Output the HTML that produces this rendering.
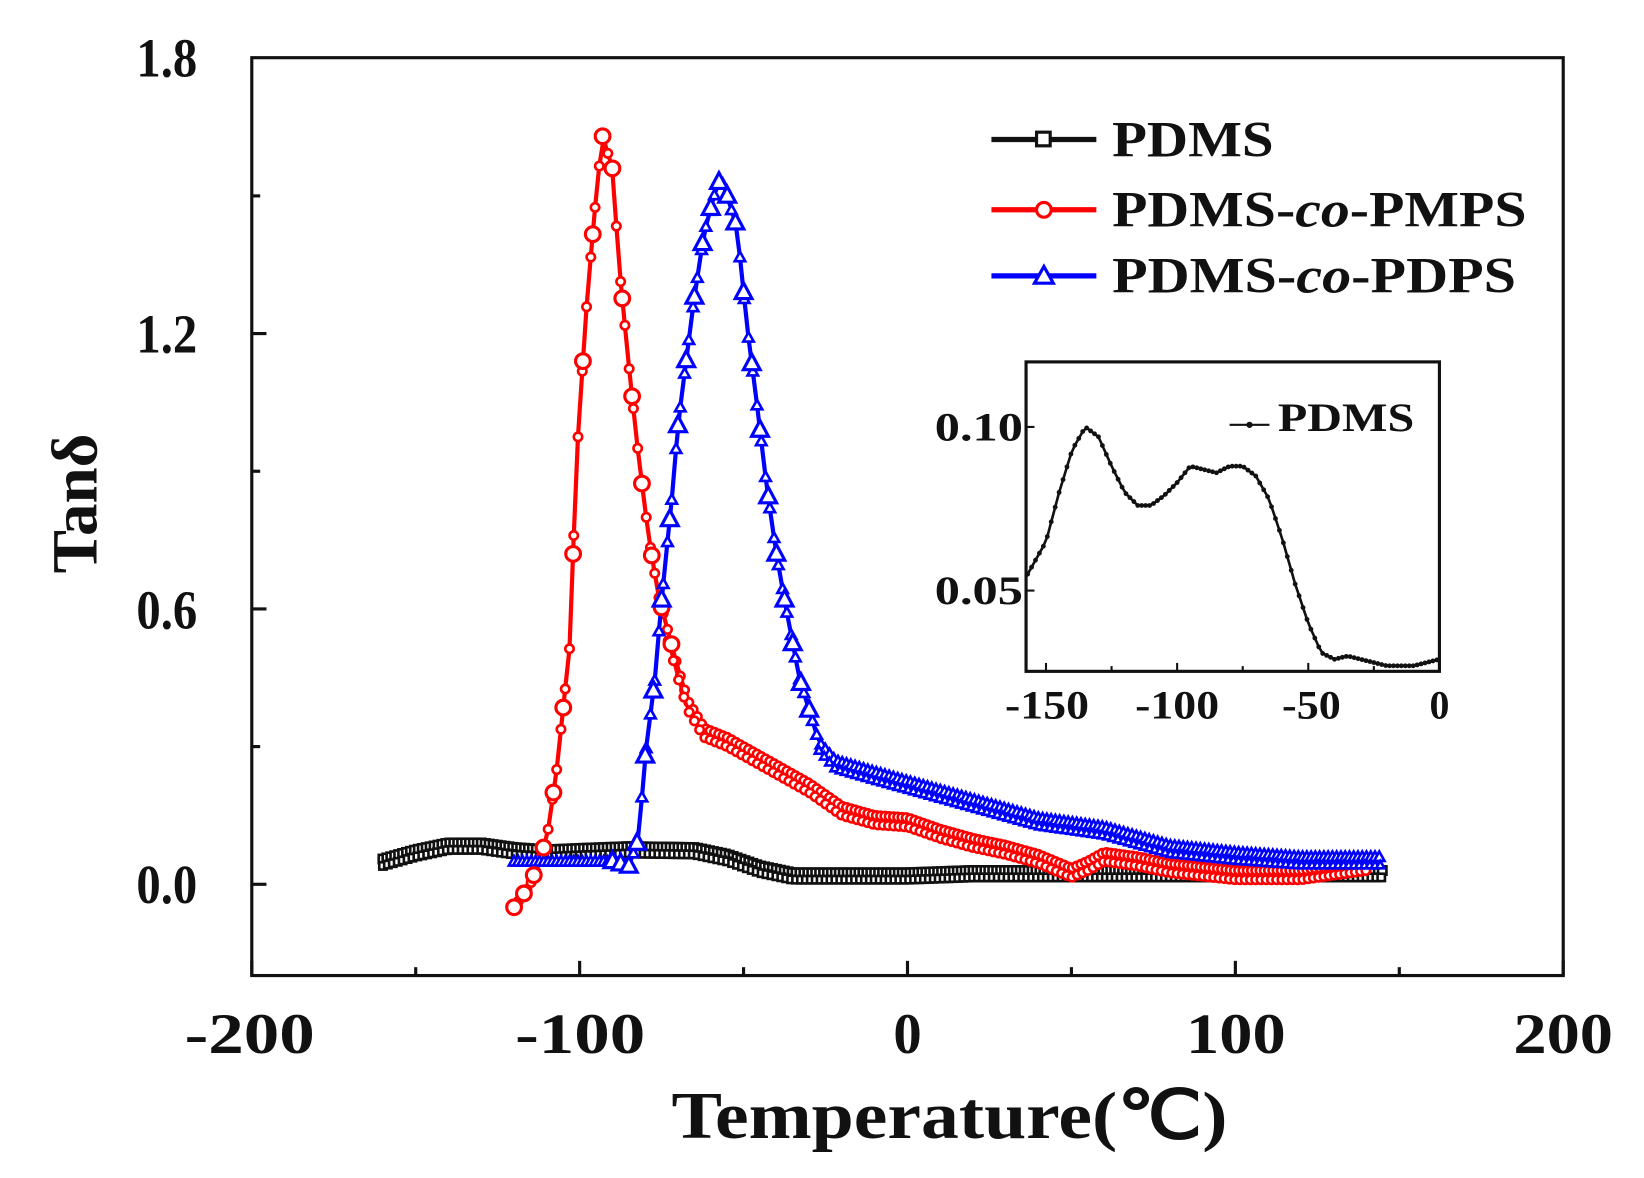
<!DOCTYPE html>
<html><head><meta charset="utf-8"><style>
html,body{margin:0;padding:0;background:#fff;width:1644px;height:1178px;overflow:hidden}
svg{display:block}
text{font-family:"Liberation Serif",serif;font-weight:bold;fill:#111}
</style></head><body>
<svg id="s" width="1644" height="1178" viewBox="0 0 1567 1123" preserveAspectRatio="none">
<rect x="240" y="55" width="1250" height="875" fill="none" stroke="#111" stroke-width="3"/>
<g id="ticks" stroke="#111" stroke-width="3"></g>
<g font-size="52" text-anchor="end">
<text x="188" y="73" textLength="58" lengthAdjust="spacingAndGlyphs">1.8</text><text x="188" y="336" textLength="58" lengthAdjust="spacingAndGlyphs">1.2</text><text x="188" y="599" textLength="58" lengthAdjust="spacingAndGlyphs">0.6</text><text x="188" y="861" textLength="58" lengthAdjust="spacingAndGlyphs">0.0</text>
</g>
<g font-size="54" text-anchor="middle">
<text x="238" y="1004" textLength="124" lengthAdjust="spacingAndGlyphs">-200</text><text x="553" y="1004" textLength="124" lengthAdjust="spacingAndGlyphs">-100</text><text x="865" y="1004">0</text><text x="1178" y="1004" textLength="95" lengthAdjust="spacingAndGlyphs">100</text><text x="1490" y="1004" textLength="95" lengthAdjust="spacingAndGlyphs">200</text>
</g>
<text x="905" y="1085" font-size="64" text-anchor="middle" textLength="530" lengthAdjust="spacingAndGlyphs">Temperature(℃)</text>
<text transform="translate(92,480) rotate(-90)" font-size="62" text-anchor="middle">Tanδ</text>
<g id="data"></g>
<g stroke-width="5">
<line x1="945" y1="133" x2="1045" y2="133" stroke="#111"/><rect x="988" y="126" width="13" height="13" fill="#fff" stroke="#111" stroke-width="3"/>
<line x1="945" y1="200" x2="1045" y2="200" stroke="#f00"/><circle cx="995" cy="200" r="7" fill="#fff" stroke="#f00" stroke-width="3"/>
<line x1="945" y1="263" x2="1045" y2="263" stroke="#00f"/><path d="M995 254 L1004 270 L986 270Z" fill="#fff" stroke="#00f" stroke-width="3"/>
</g>
<g font-size="48">
<text x="1060" y="149" textLength="154" lengthAdjust="spacingAndGlyphs">PDMS</text>
<text x="1060" y="216" textLength="395" lengthAdjust="spacingAndGlyphs">PDMS-<tspan font-style="italic">co</tspan>-PMPS</text>
<text x="1060" y="279" textLength="385" lengthAdjust="spacingAndGlyphs">PDMS-<tspan font-style="italic">co</tspan>-PDPS</text>
</g>
<rect x="978" y="345" width="394" height="295" fill="#fff" stroke="#111" stroke-width="3"/>
<g id="inset"></g>
<g font-size="38" text-anchor="end"><text x="975" y="420" textLength="84" lengthAdjust="spacingAndGlyphs">0.10</text><text x="975" y="576" textLength="84" lengthAdjust="spacingAndGlyphs">0.05</text></g>
<g font-size="38" text-anchor="middle"><text x="998" y="685" textLength="80" lengthAdjust="spacingAndGlyphs">-150</text><text x="1122" y="685" textLength="80" lengthAdjust="spacingAndGlyphs">-100</text><text x="1250" y="685" textLength="56" lengthAdjust="spacingAndGlyphs">-50</text><text x="1372" y="685">0</text></g>
<line x1="1172" y1="405" x2="1210" y2="405" stroke="#111" stroke-width="2"/><circle cx="1191" cy="405" r="3" fill="#111"/>
<text x="1218" y="411" font-size="38" textLength="130" lengthAdjust="spacingAndGlyphs">PDMS</text>
</svg>
<script>
const X=t=>865+3.125*t, Y=v=>843-437.5*v;
function interp(pts,t){for(let i=0;i<pts.length-1;i++){if(t>=pts[i][0]&&t<=pts[i+1][0]){const a=pts[i],b=pts[i+1];return a[1]+(b[1]-a[1])*(t-a[0])/(b[0]-a[0]);}}return pts[pts.length-1][1];}
const tk=document.getElementById('ticks');let ts='';
for(let t=-200;t<=200;t+=50){const L=t%100==0?14:8;ts+=`<line x1="${X(t)}" y1="930" x2="${X(t)}" y2="${930-L}"/>`;}
[[1.5,8],[1.2,14],[0.9,8],[0.6,14],[0.3,8],[0,14]].forEach(([v,L])=>{ts+=`<line x1="240" y1="${Y(v)}" x2="${240+L}" y2="${Y(v)}"/>`;});
tk.innerHTML=ts;
const pdms=[[-160,0.055],[-150,0.075],[-140,0.09],[-130,0.09],[-120,0.08],[-110,0.075],[-100,0.078],[-85,0.082],[-65,0.08],[-55,0.065],[-45,0.04],[-35,0.025],[-20,0.025],[0,0.025],[20,0.03],[60,0.03],[100,0.03],[145,0.03]];
const pmps=[[-120,-0.05],[-115,0.0],[-110,0.1],[-107,0.25],[-103,0.52],[-101,0.92],[-98,1.25],[-95,1.5],[-93,1.63],[-90,1.56],[-88,1.35],[-85,1.13],[-82,0.93],[-79,0.76],[-76,0.63],[-73,0.55],[-70,0.47],[-67,0.40],[-62,0.34],[-55,0.32],[-50,0.30],[-40,0.26],[-30,0.22],[-20,0.17],[-10,0.15],[0,0.145],[10,0.12],[20,0.1],[30,0.085],[40,0.065],[50,0.035],[55,0.05],[60,0.07],[70,0.06],[80,0.045],[100,0.03],[120,0.03],[140,0.05]];
const pdps=[[-120,0.05],[-100,0.05],[-90,0.05],[-85,0.04],[-82,0.1],[-80,0.28],[-77,0.45],[-75,0.62],[-72,0.83],[-70,1.0],[-67,1.17],[-65,1.28],[-62,1.42],[-59,1.5],[-57,1.54],[-55,1.5],[-52,1.43],[-49,1.22],[-46,1.05],[-43,0.87],[-40,0.72],[-37,0.6],[-33,0.45],[-30,0.38],[-27,0.31],[-22,0.27],[-10,0.245],[0,0.225],[20,0.185],[40,0.145],[60,0.125],[80,0.085],[100,0.07],[120,0.06],[145,0.06]];
let out='';
function series(pts,col,off,w,step,mk,sz){
 let d='',m='';const t0=pts[0][0],t1=pts[pts.length-1][0];
 for(let t=t0;t<=t1+0.001;t+=step){const x=X(t),y=Y(interp(pts,t)-off);d+=(d?'L':'M')+x.toFixed(1)+' '+y.toFixed(1);
  if(mk=='s')m+=`<rect x="${x-sz}" y="${y-sz}" width="${2*sz}" height="${2*sz}"/>`;
  else if(mk=='c')m+=`<circle cx="${x}" cy="${y}" r="${sz}"/>`;
  else m+=`<path d="M${x} ${y-sz} L${x+sz} ${y+sz*0.8} L${x-sz} ${y+sz*0.8}Z"/>`;}
 out+=`<path d="${d}" fill="none" stroke="${col}" stroke-width="${w}"/><g fill="#fff" stroke="${col}" stroke-width="2.5">${m}</g>`;
}
series(pdms,'#111',0.0,10,1.2,'s',4);
series(pdms,'#111',0.015,4,1.5,'s',3.5);
series(pmps,'#f00',0.0,4,1.3,'c',4);
series(pmps.filter(p=>p[0]>-75),'#f00',0.02,3,1.6,'c',4);
series(pdps,'#00f',0.0,4,1.3,'t',5);
series(pdps.filter(p=>p[0]>-30),'#00f',0.018,3,1.6,'t',4);
function big(pts,col,mk,step,t0,t1){let m='';for(let t=t0;t<=t1;t+=step){const x=X(t),y=Y(interp(pts,t));
 if(mk=='c')m+=`<circle cx="${x}" cy="${y}" r="7"/>`;else m+=`<path d="M${x} ${y-9} L${x+8} ${y+6} L${x-8} ${y+6}Z"/>`;}
 out+=`<g fill="#fff" stroke="${col}" stroke-width="3">${m}</g>`;}
big(pmps,'#f00','c',3,-120,-70);
big(pdps,'#00f','t',2.5,-90,-30);
document.getElementById('data').innerHTML=out;
const ins=[[-157,0.055],[-150,0.065],[-145,0.08],[-140,0.093],[-135,0.1],[-130,0.097],[-125,0.088],[-120,0.08],[-115,0.076],[-110,0.076],[-105,0.079],[-100,0.083],[-95,0.088],[-90,0.087],[-85,0.086],[-80,0.088],[-75,0.088],[-70,0.085],[-65,0.078],[-60,0.066],[-55,0.052],[-50,0.04],[-45,0.031],[-40,0.029],[-35,0.030],[-30,0.029],[-20,0.027],[-10,0.027],[0,0.029]];
const IX=t=>1372+2.5*t, IY=v=>407-3120*(v-0.10);
let d='',m='';for(let t=-157;t<=0;t+=1.5){const x=IX(t),y=IY(interp(ins,t));d+=(d?'L':'M')+x.toFixed(1)+' '+y.toFixed(1);m+=`<circle cx="${x}" cy="${y}" r="2.3"/>`;}
let it='';for(let t=-150;t<=0;t+=25){it+=`<line x1="${IX(t)}" y1="640" x2="${IX(t)}" y2="${640-(t%50==0?8:5)}"/>`;}
document.getElementById('inset').innerHTML=`<path d="${d}" fill="none" stroke="#111" stroke-width="2.5"/><g fill="#111">${m}</g><g stroke="#111" stroke-width="2">${it}<line x1="978" y1="407" x2="986" y2="407"/><line x1="978" y1="563" x2="986" y2="563"/></g>`;
</script>
</body></html>
